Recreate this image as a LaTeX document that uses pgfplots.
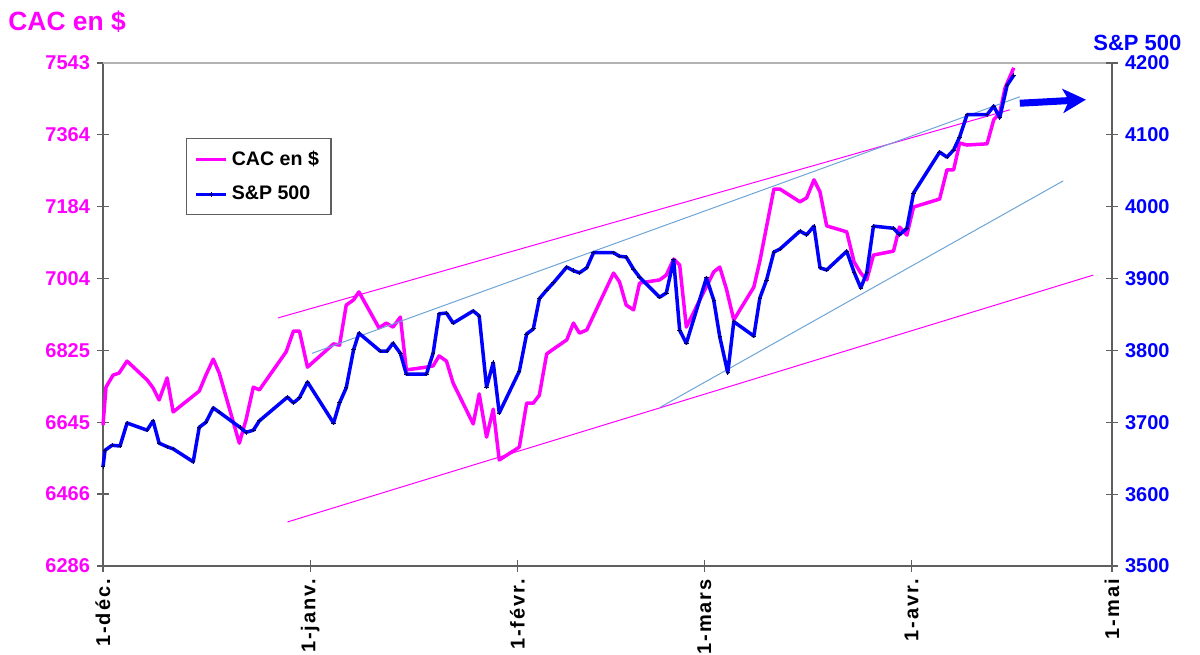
\documentclass[border=0pt]{standalone}
\usepackage{fontspec}
\setmainfont{Liberation Sans}
\newfontfamily\xlab[LetterSpace=10]{Liberation Sans}
\usepackage{pgfplots}
\pgfplotsset{compat=1.18}
\usetikzlibrary{arrows.meta}

\definecolor{cac}{RGB}{255,0,255}
\definecolor{spx}{RGB}{0,0,255}
\definecolor{trendblue}{RGB}{110,165,215}
\definecolor{frame}{RGB}{95,95,95}

\begin{document}
\begin{tikzpicture}[x=1pt,y=1pt]
\useasboundingbox (0,0) rectangle (600,327);

\pgfplotsset{
  base/.style={
    scale only axis, width=504.5pt, height=251.5pt,
    at={(51.5pt,44pt)}, anchor=south west,
    xmin=0, xmax=151, clip=false,
    /pgf/number format/assume math mode=true,
    /pgf/number format/1000 sep={},
    tick label style={font=\fontsize{10}{12}\selectfont\bfseries},
    tick align=center, major tick length=6pt,
    tick style={frame, line width=0.6pt},
    axis line style={frame, line width=1pt},
  },
}

% --- CAC en $ (left axis)
\begin{axis}[base,
  ymin=6286, ymax=7543,
  ytick={6286,6466,6645,6825,7004,7184,7364,7543},
  axis x line*=bottom, axis y line*=left,
  yticklabel style={text=cac},
  xtick={0,31,62,90,121,151},
  xticklabels={1-déc., 1-janv., 1-févr., 1-mars, 1-avr., 1-mai},
  xticklabel style={rotate=90, anchor=east, font=\xlab\fontsize{10}{12}\selectfont\bfseries},
]
\draw[gray!60, line width=1pt] (rel axis cs:0,1) -- (rel axis cs:1,1);

% trend channel
\addplot[cac, line width=0.5pt] coordinates {(26.2,6906) (135.7,7426)};
\addplot[cac, line width=0.5pt] coordinates {(27.6,6396) (148.2,7013)};

\addplot[cac, line width=1.75pt, line join=round] coordinates {
  (0,6638) (0.45,6733) (1.5,6763) (2.4,6768) (3.6,6798) (6.6,6751) (7.5,6731)
  (8.4,6701) (9.6,6756) (10.5,6671) (14.4,6723) (15.4,6763) (16.5,6803)
  (17.4,6768) (20.4,6593) (21.4,6651) (22.5,6733) (23.4,6726) (27.4,6821)
  (28.5,6873) (29.4,6873) (30.6,6783) (34.5,6841) (35.4,6838) (36.4,6938)
  (37.5,6951) (38.3,6971) (41.3,6881) (42.4,6893) (43.4,6883) (44.5,6908)
  (45.4,6776) (48.4,6783) (49.4,6786) (50.3,6811) (51.4,6798) (52.4,6743)
  (55.4,6641) (56.3,6716) (57.4,6608) (58.4,6678) (59.3,6551) (62.3,6583)
  (63.4,6693) (64.4,6693) (65.3,6713) (66.4,6816) (67.4,6828) (69.4,6851)
  (70.4,6893) (71.3,6868) (72.4,6876) (76.4,7018) (77.3,6996) (78.3,6938)
  (79.4,6926) (80.3,6993) (83.3,7001) (84.3,7013) (85.4,7053) (86.3,7038)
  (87.3,6883) (91.4,7021) (92.3,7033) (93.3,6978) (94.4,6901) (97.4,6983)
  (98.3,7048) (100.4,7228) (101.3,7228) (104.3,7196) (105.3,7206) (106.4,7251)
  (107.3,7221) (108.3,7136) (111.3,7121) (112.4,7046) (113.4,7018) (114.3,7001)
  (115.3,7063) (118.3,7073) (119.2,7133) (120.3,7113) (121.3,7183) (125.2,7203)
  (126.3,7276) (127.3,7276) (128.2,7343) (129.3,7338) (132.3,7341) (133.3,7401)
  (134.2,7418) (135.0,7481) (136.3,7531)
};
\end{axis}

% --- S&P 500 (right axis)
\begin{axis}[base,
  ymin=3500, ymax=4200, ytick distance=100,
  axis x line=none, axis y line*=right,
  yticklabel style={text=spx},
  legend style={at={(0.082,0.851)}, anchor=north west, draw=frame,
    line width=0.6pt, fill=white,
    font=\fontsize{9.8}{11}\selectfont\bfseries,
    inner xsep=4pt, inner ysep=4pt, row sep=5pt},
  legend cell align=left,
  legend image code/.code={\draw[mark repeat=2, mark phase=2, #1]
    plot coordinates {(0pt,0pt) (7.5pt,0pt) (15pt,0pt)};},
]
\addlegendimage{cac, line width=1.75pt}
\addlegendentry{CAC en \$}

\addplot[trendblue, line width=0.5pt, forget plot] coordinates {(31.3,3796) (137.2,4153)};
\addplot[trendblue, line width=0.5pt, forget plot] coordinates {(83.4,3721) (143.7,4036)};

\addplot[spx, line width=1.75pt, line join=round, mark=+, mark size=1.1pt,
  mark options={draw=black!60!blue, line width=0.4pt}] coordinates {
  (0,3638) (0.3,3661) (1.35,3668) (2.55,3667) (3.6,3699) (6.6,3689) (7.5,3702)
  (8.4,3671) (9.6,3666) (10.5,3663) (13.5,3645) (14.4,3693) (15.4,3700)
  (16.5,3720) (17.4,3714) (20.5,3693) (21.4,3686) (22.5,3689) (23.4,3702)
  (27.6,3735) (28.5,3727) (29.4,3734) (30.6,3756) (34.5,3699) (35.4,3727)
  (36.4,3748) (37.5,3801) (38.3,3824) (41.5,3799) (42.5,3799) (43.4,3810)
  (44.5,3796) (45.4,3767) (48.4,3767) (49.4,3796) (50.3,3851) (51.4,3852)
  (52.4,3838) (55.4,3855) (56.3,3848) (57.4,3749) (58.4,3783) (59.3,3713)
  (62.3,3771) (63.4,3823) (64.4,3830) (65.3,3872) (66.4,3884) (67.4,3894)
  (69.4,3916) (70.4,3911) (71.3,3908) (72.4,3915) (73.4,3936) (76.4,3936)
  (77.3,3931) (78.3,3930) (79.4,3913) (80.3,3902) (83.3,3874) (84.3,3880)
  (85.4,3926) (86.3,3828) (87.3,3810) (90.3,3901) (91.4,3870) (92.3,3819)
  (93.5,3769) (94.4,3840) (97.4,3820) (98.3,3873) (99.3,3898) (100.4,3937)
  (101.3,3941) (104.3,3966) (105.3,3961) (106.4,3973) (107.3,3915) (108.3,3912)
  (111.3,3938) (112.4,3909) (113.4,3887) (114.3,3908) (115.3,3973) (118.3,3970)
  (119.2,3961) (120.3,3970) (121.3,4019) (125.2,4076) (126.3,4069) (127.3,4079)
  (128.2,4097) (129.3,4128) (132.3,4128) (133.3,4140) (134.2,4124) (135.3,4169)
  (136.3,4183)
};
\addlegendentry{S\&P 500}

\draw[spx, line width=3.5pt, -{Stealth[length=11.5pt, width=12pt, inset=3pt]}]
  (axis cs:137.2,4144) -- (axis cs:147.1,4149);
\end{axis}

\node[anchor=base west, inner sep=0, text=cac, font=\fontsize{13.2}{15}\selectfont\bfseries]
  at (4,311.5) {CAC en \$};
\node[anchor=base west, inner sep=0, text=spx, font=\fontsize{11}{13}\selectfont\bfseries]
  at (546.5,301.5) {S\&P 500};
\end{tikzpicture}
\end{document}
